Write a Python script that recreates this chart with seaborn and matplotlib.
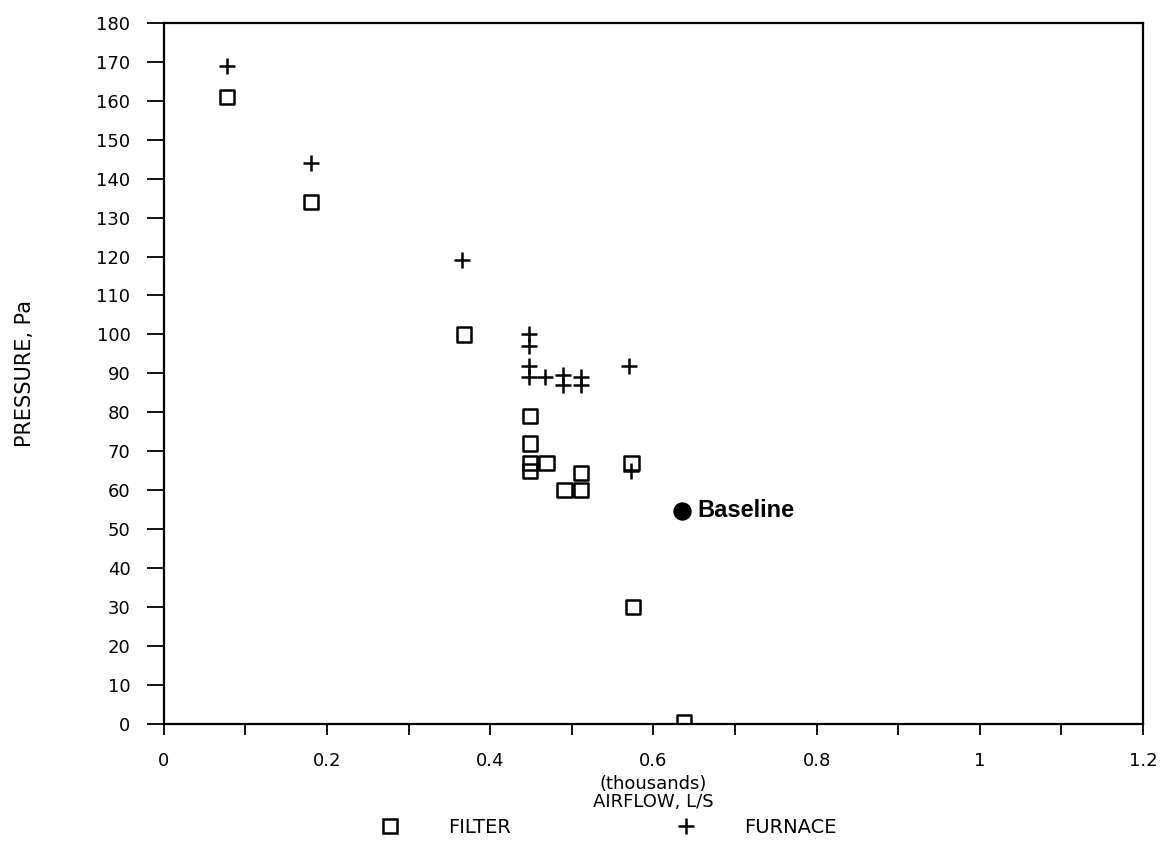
"""Pressure vs airflow scatter for filter and furnace readings."""

import matplotlib

matplotlib.use("Agg")

import matplotlib.pyplot as plt
import pandas as pd
import seaborn as sns
from matplotlib.lines import Line2D

filter_airflow = [0.077, 0.180, 0.368, 0.449, 0.449, 0.449, 0.449, 0.469, 0.511, 0.491, 0.511, 0.573, 0.575, 0.637]
filter_pressure = [161, 134, 100, 79, 72, 67, 65, 67, 64.5, 60, 60, 67, 30, 0.5]

furnace_airflow = [0.077, 0.180, 0.365, 0.447, 0.447, 0.447, 0.447, 0.467, 0.489, 0.489, 0.511, 0.511, 0.570, 0.572]
furnace_pressure = [169, 144, 119, 100, 97, 92, 89, 89, 89.5, 87, 89, 87, 92, 65]

baseline_airflow = [0.635]
baseline_pressure = [54.7]

x_ticks = [0, 0.1, 0.2, 0.3, 0.4, 0.5, 0.6, 0.7, 0.8, 0.9, 1.0, 1.1, 1.2]
x_tick_labels = ["0", "", "0.2", "", "0.4", "", "0.6", "", "0.8", "", "1", "", "1.2"]
y_ticks = list(range(0, 181, 10))

filt = pd.DataFrame({"airflow": filter_airflow, "pressure": filter_pressure})
furn = pd.DataFrame({"airflow": furnace_airflow, "pressure": furnace_pressure})
base = pd.DataFrame({"airflow": baseline_airflow, "pressure": baseline_pressure})

sns.set_theme(style="ticks")
plt.rcParams["font.family"] = ["DejaVu Sans"]
plt.rcParams["text.color"] = "black"
plt.rcParams["xtick.color"] = "black"
plt.rcParams["ytick.color"] = "black"
plt.rcParams["axes.labelcolor"] = "black"

fig = plt.figure(figsize=(11.7, 8.41), dpi=100)
ax = fig.add_axes([0.140, 0.139, 0.837, 0.834])

sns.scatterplot(data=filt, x="airflow", y="pressure", marker="s", s=105,
                facecolors="none", edgecolors="black", linewidths=1.8, ax=ax)
sns.scatterplot(data=furn, x="airflow", y="pressure", marker="+", s=140,
                color="black", linewidths=1.8, ax=ax)
sns.scatterplot(data=base, x="airflow", y="pressure", marker="o", s=150,
                color="black", edgecolor="black", ax=ax)
ax.text(baseline_airflow[0] + 0.019, baseline_pressure[0], "Baseline",
        fontsize=17, fontweight="bold", family="Liberation Sans", va="center", ha="left")

ax.set_xlim(0, 1.2)
ax.set_ylim(0, 180)
ax.set_xticks(x_ticks)
ax.set_xticklabels(x_tick_labels)
ax.set_yticks(y_ticks)
ax.tick_params(axis="y", direction="out", length=12, width=1.3, labelsize=13, pad=12)
ax.tick_params(axis="x", direction="out", length=8, width=1.3, labelsize=13, pad=12)
for side in ax.spines.values():
    side.set_linewidth(1.6)
    side.set_color("black")

ax.set_ylabel("PRESSURE, Pa", fontsize=15, labelpad=44)
ax.set_xlabel("(thousands)\nAIRFLOW, L/S", fontsize=13, labelpad=4, linespacing=1.0)

handles = [
    Line2D([], [], marker="s", linestyle="none", markersize=10, markerfacecolor="none",
           markeredgecolor="black", markeredgewidth=1.8),
    Line2D([], [], marker="+", linestyle="none", markersize=12, color="black",
           markeredgewidth=1.8),
]
fig.legend(handles, ["FILTER", "FURNACE"], loc="center", bbox_to_anchor=(0.516, 0.016),
           ncol=2, frameon=False, fontsize=14, handletextpad=2.0, columnspacing=8.0)

fig.savefig("out.png", dpi=100)
plt.close(fig)
